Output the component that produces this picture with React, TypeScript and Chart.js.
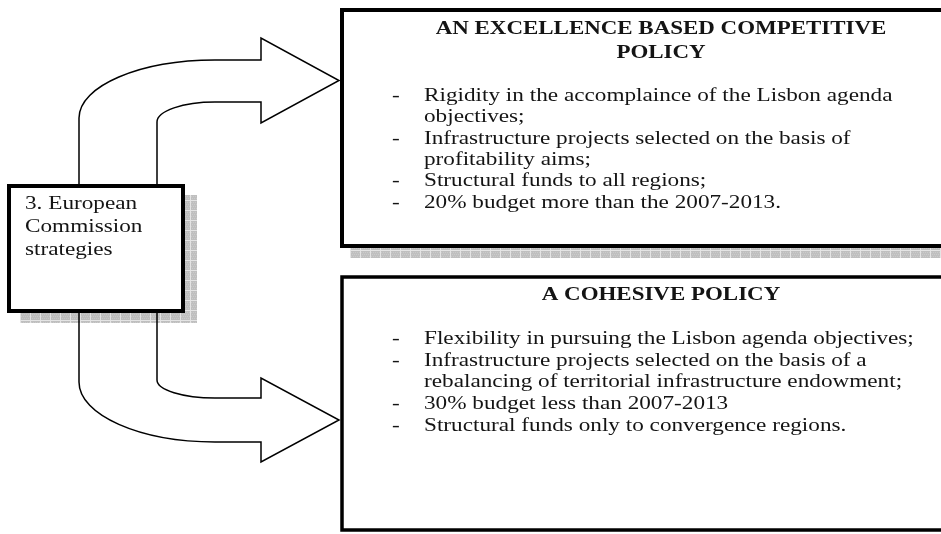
import React, { useEffect, useRef } from "react";
import { Chart, registerables } from "chart.js";

Chart.register(...registerables);

// ---- Text content (data) ----
const strategyLabel = ["3. European", "Commission", "strategies"];
const competitiveTitle = ["AN EXCELLENCE BASED COMPETITIVE", "POLICY"];
const competitiveItems = [
  ["Rigidity in the accomplaince of the Lisbon agenda", "objectives;"],
  ["Infrastructure projects selected on the basis of", "profitability aims;"],
  ["Structural funds to all regions;"],
  ["20% budget more than the 2007-2013."],
];
const cohesiveTitle = ["A COHESIVE POLICY"];
const cohesiveItems = [
  ["Flexibility in pursuing the Lisbon agenda objectives;"],
  ["Infrastructure projects selected on the basis of a", "rebalancing of territorial infrastructure endowment;"],
  ["30% budget less than 2007-2013"],
  ["Structural funds only to convergence regions."],
];

// ---- Layout / style (diagram space = 941 x 534) ----
const W = 941;
const H = 534;
const FONT = '"Liberation Serif", "Times New Roman", serif';
const STRETCH = 1.19;
const BODY_SIZE = 19.5;
const TITLE_SIZE = 19.3;
const INK = "#141414";

const LAYOUT = {
  leftBox: { x0: 9, y0: 186, x1: 183, y1: 311, lw: 4 },
  leftShadow: { x0: 20, y0: 195, x1: 197, y1: 323 },
  topBox: { x0: 342, y0: 10, x1: 1000, y1: 246, lw: 4 },
  topShadow: { x0: 350, y0: 20, x1: 1000, y1: 258 },
  bottomBox: { x0: 342, y0: 277, x1: 1000, y1: 530, lw: 3.5 },
  leftText: { x: 25, y: 209, step: 22.8 },
  titleCx: 661,
  topTitle: { y: 34, step: 24 },
  topItems: { y: 101, step: 21.3 },
  bottomTitle: { y: 300, step: 24 },
  bottomItems: { y: 344, step: 21.7 },
  dashX: 392,
  itemX: 424,
};

// arrow outlines: M/L points and E = quarter ellipse to point
type Seg = [string, number, number, string?];
const upArrow: Seg[] = [
  ["M", 79, 186],
  ["L", 79, 118],
  ["E", 215, 60, "v2h"],
  ["L", 261, 60],
  ["L", 261, 38],
  ["L", 339, 80.5],
  ["L", 261, 123],
  ["L", 261, 102],
  ["L", 215, 102],
  ["E", 157, 122, "h2v"],
  ["L", 157, 186],
];
const downArrow: Seg[] = [
  ["M", 79, 311],
  ["L", 79, 382],
  ["E", 215, 442, "v2h"],
  ["L", 261, 442],
  ["L", 261, 462],
  ["L", 339, 420],
  ["L", 261, 378],
  ["L", 261, 398],
  ["L", 215, 398],
  ["E", 157, 380, "h2v"],
  ["L", 157, 311],
];

function makePattern(ctx: CanvasRenderingContext2D) {
  const c = document.createElement("canvas");
  c.width = 10;
  c.height = 10;
  const g = c.getContext("2d")!;
  g.fillStyle = "#bfbfbf";
  g.fillRect(0, 0, 10, 10);
  g.fillStyle = "#cbcbcb";
  for (let i = 0; i < 10; i += 2) for (let j = (i / 2) % 2; j < 10; j += 2) g.fillRect(j, i, 1, 1);
  g.fillStyle = "#e4e4e4";
  g.fillRect(0, 0, 10, 1);
  g.fillRect(0, 0, 1, 10);
  return ctx.createPattern(c, "repeat");
}

const diagramPlugin = {
  id: "diagram",
  beforeDatasetsDraw(chart: any) {
    const ctx: CanvasRenderingContext2D = chart.ctx;
    const xs = chart.scales.x;
    const ys = chart.scales.y;
    const px = (v: number) => xs.getPixelForValue(v);
    const py = (v: number) => ys.getPixelForValue(v);
    const K = 0.5523;

    ctx.save();
    ctx.fillStyle = "#ffffff";
    ctx.fillRect(0, 0, chart.width, chart.height);

    // shadows
    const pat = makePattern(ctx);
    ctx.fillStyle = pat || "#c4c4c4";
    for (const s of [LAYOUT.leftShadow, LAYOUT.topShadow]) {
      ctx.fillRect(px(s.x0), py(s.y0), px(s.x1) - px(s.x0), py(s.y1) - py(s.y0));
    }

    // arrows
    const drawPath = (segs: Seg[]) => {
      ctx.beginPath();
      let cx = 0, cy = 0;
      for (const [t, a, b, mode] of segs) {
        const X = px(a), Y = py(b);
        if (t === "M") ctx.moveTo(X, Y);
        else if (t === "L") ctx.lineTo(X, Y);
        else if (t === "E") {
          if (mode === "v2h") {
            ctx.bezierCurveTo(cx, cy + K * (Y - cy), X - K * (X - cx), Y, X, Y);
          } else {
            ctx.bezierCurveTo(cx + K * (X - cx), cy, X, Y + K * (cy - Y), X, Y);
          }
        }
        cx = X;
        cy = Y;
      }
      ctx.lineWidth = 1.5;
      ctx.strokeStyle = "#000";
      ctx.lineJoin = "miter";
      ctx.stroke();
    };
    drawPath(upArrow);
    drawPath(downArrow);

    // boxes
    for (const b of [LAYOUT.leftBox, LAYOUT.topBox, LAYOUT.bottomBox]) {
      const x0 = px(b.x0), y0 = py(b.y0), x1 = px(b.x1), y1 = py(b.y1);
      ctx.fillStyle = "#fff";
      ctx.fillRect(x0, y0, x1 - x0, y1 - y0);
      ctx.lineWidth = b.lw;
      ctx.strokeStyle = "#000";
      ctx.strokeRect(x0, y0, x1 - x0, y1 - y0);
    }

    // text
    const text = (s: string, x: number, y: number, align: CanvasTextAlign, font: string) => {
      ctx.save();
      ctx.translate(px(x), py(y));
      ctx.scale(STRETCH, 1);
      ctx.font = font;
      ctx.textAlign = align;
      ctx.textBaseline = "alphabetic";
      ctx.fillStyle = INK;
      ctx.fillText(s, 0, 0);
      ctx.restore();
    };
    const body = `${BODY_SIZE}px ${FONT}`;
    const bold = `bold ${TITLE_SIZE}px ${FONT}`;

    strategyLabel.forEach((s, i) =>
      text(s, LAYOUT.leftText.x, LAYOUT.leftText.y + i * LAYOUT.leftText.step, "left", body)
    );
    competitiveTitle.forEach((s, i) =>
      text(s, LAYOUT.titleCx, LAYOUT.topTitle.y + i * LAYOUT.topTitle.step, "center", bold)
    );
    cohesiveTitle.forEach((s, i) =>
      text(s, LAYOUT.titleCx, LAYOUT.bottomTitle.y + i * LAYOUT.bottomTitle.step, "center", bold)
    );
    const items = (list: string[][], start: number, step: number) => {
      let line = 0;
      for (const item of list) {
        text("-", LAYOUT.dashX, start + line * step, "left", body);
        for (const s of item) {
          text(s, LAYOUT.itemX, start + line * step, "left", body);
          line++;
        }
      }
    };
    items(competitiveItems, LAYOUT.topItems.y, LAYOUT.topItems.step);
    items(cohesiveItems, LAYOUT.bottomItems.y, LAYOUT.bottomItems.step);

    ctx.restore();
  },
};

export default function App() {
  const ref = useRef<HTMLCanvasElement | null>(null);
  useEffect(() => {
    document.body.style.margin = "0";
    const chart = new Chart(ref.current!, {
      type: "scatter",
      data: { datasets: [{ data: [], showLine: false, pointRadius: 0 }] },
      options: {
        animation: false,
        responsive: false,
        devicePixelRatio: 1,
        layout: { padding: 0 },
        plugins: { legend: { display: false }, tooltip: { enabled: false } },
        scales: {
          x: { type: "linear", min: 0, max: W, display: false },
          y: { type: "linear", min: 0, max: H, reverse: true, display: false },
        },
      },
      plugins: [diagramPlugin],
    });
    return () => chart.destroy();
  }, []);
  return (
    <div style={{ position: "fixed", left: 0, top: 0, width: W, height: H, background: "#fff" }}>
      <canvas ref={ref} width={W} height={H} style={{ display: "block" }} />
    </div>
  );
}
